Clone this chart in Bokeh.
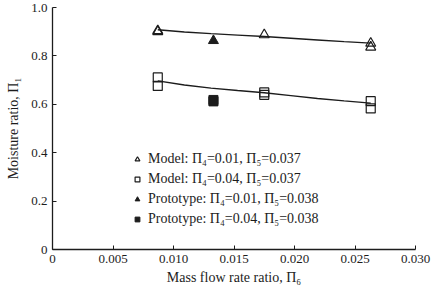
from bokeh.plotting import figure
from bokeh.models import Range1d, FixedTicker, Legend, LegendItem
from bokeh.embed import file_html
from bokeh.resources import INLINE

# Mass flow rate ratio (Π6) and moisture ratio (Π1) readings
model_a_x = [0.0087, 0.0087, 0.0175, 0.0263, 0.0263]
model_a_y = [0.904, 0.900, 0.887, 0.852, 0.836]
model_b_x = [0.0087, 0.0087, 0.0175, 0.0175, 0.0263, 0.0263]
model_b_y = [0.711, 0.676, 0.649, 0.639, 0.613, 0.583]
proto_a_x = [0.0133]
proto_a_y = [0.863]
proto_b_x = [0.0133, 0.0133]
proto_b_y = [0.618, 0.612]

# Trend curves through each pair of series
trend_x = [0.0087, 0.0109, 0.0131, 0.0153, 0.0175, 0.0197, 0.0219, 0.0241, 0.0263]
trend_a_y = [0.908, 0.899, 0.892, 0.886, 0.880, 0.873, 0.866, 0.859, 0.853]
trend_b_y = [0.697, 0.680, 0.667, 0.657, 0.648, 0.636, 0.624, 0.614, 0.605]

x_ticks = [0, 0.005, 0.010, 0.015, 0.020, 0.025, 0.030]
x_labels = ["0", "0.005", "0.010", "0.015", "0.020", "0.025", "0.030"]
y_ticks = [0, 0.2, 0.4, 0.6, 0.8, 1.0]
y_labels = ["0", "0.2", "0.4", "0.6", "0.8", "1.0"]

legend_labels = [
    "Model: Π₄=0.01, Π₅=0.037",
    "Model: Π₄=0.04, Π₅=0.037",
    "Prototype: Π₄=0.01, Π₅=0.038",
    "Prototype: Π₄=0.04, Π₅=0.038",
]

FONT = "Liberation Serif"
INK = "#1c1c1c"

p = figure(width=445, height=290, output_backend="svg", toolbar_location=None,
           x_range=Range1d(0, 0.030), y_range=Range1d(0, 1.0),
           min_border_left=52, min_border_right=30, min_border_top=7,
           min_border_bottom=41)
p.outline_line_color = None
p.grid.visible = False
p.background_fill_color = "white"
p.border_fill_color = "white"

for ax in (p.xaxis[0], p.yaxis[0]):
    ax.axis_line_color = INK
    ax.axis_line_width = 1.3
    ax.major_tick_line_color = INK
    ax.major_tick_in = 4
    ax.major_tick_out = 0
    ax.minor_tick_line_color = None
    ax.major_label_text_font = FONT
    ax.major_label_text_font_size = "13px"
    ax.major_label_text_color = INK
    ax.axis_label_text_font = FONT
    ax.axis_label_text_font_style = "normal"
    ax.axis_label_text_color = INK
    ax.axis_label_text_font_size = "14px"

p.xaxis.ticker = FixedTicker(ticks=x_ticks)
p.xaxis.major_label_overrides = dict(zip(x_ticks, x_labels))
p.yaxis.ticker = FixedTicker(ticks=y_ticks)
p.yaxis.major_label_overrides = dict(zip(y_ticks, y_labels))
p.xaxis.axis_label = "Mass flow rate ratio, Π₆"
p.yaxis.axis_label = "Moisture ratio, Π₁"
p.xaxis.major_label_standoff = 5
p.yaxis.major_label_standoff = 5
p.xaxis.axis_label_standoff = 4
p.yaxis.axis_label_standoff = 7

p.line(trend_x, trend_a_y, line_color=INK, line_width=1.4)
p.line(trend_x, trend_b_y, line_color=INK, line_width=1.4)

r1 = p.scatter(model_a_x, model_a_y, marker="triangle", size=10,
               fill_color=None, line_color=INK, line_width=1.2)
r2 = p.scatter(model_b_x, model_b_y, marker="square", size=9,
               fill_color=None, line_color=INK, line_width=1.2)
r3 = p.scatter(proto_a_x, proto_a_y, marker="triangle", size=10,
               fill_color=INK, line_color=INK)
r4 = p.scatter(proto_b_x, proto_b_y, marker="square", size=9,
               fill_color=INK, line_color=INK)

items = [LegendItem(label=lab, renderers=[r]) for lab, r in zip(legend_labels, [r1, r2, r3, r4])]
legend = Legend(items=items, location=(79, 20), background_fill_alpha=0,
                border_line_color=None, label_text_font=FONT,
                label_text_font_size="14px", label_text_color=INK,
                glyph_width=12, glyph_height=20, label_height=20,
                spacing=0, padding=0, margin=0, label_standoff=5)
p.add_layout(legend)

open("out.html", "w").write(file_html(p, INLINE))
